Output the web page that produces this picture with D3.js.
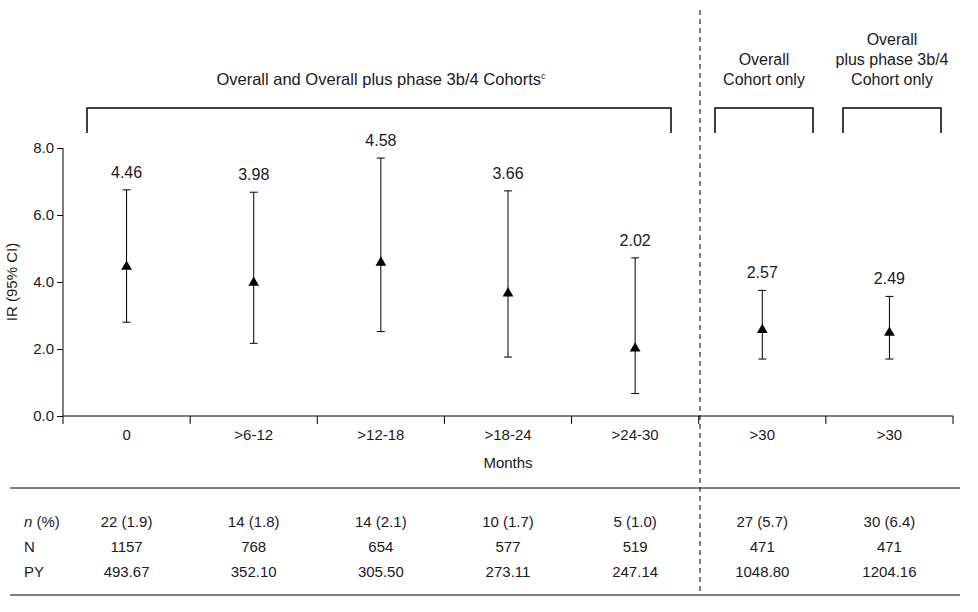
<!DOCTYPE html>
<html><head><meta charset="utf-8">
<script src="https://cdn.jsdelivr.net/npm/d3@7"></script>
<style>body{margin:0;background:#fff}text{font-family:"Liberation Sans",Arial,sans-serif;fill:#1a1a1a}</style>
</head><body><svg id="c" width="978" height="612"></svg>
<script>
const categories=["0",">6-12",">12-18",">18-24",">24-30",">30",">30"];
const ir=[4.46,3.98,4.58,3.66,2.02,2.57,2.49];
const ciLow=[2.8,2.17,2.52,1.76,0.67,1.7,1.7];
const ciHigh=[6.75,6.68,7.7,6.72,4.72,3.75,3.57];
const nPct=["22 (1.9)","14 (1.8)","14 (2.1)","10 (1.7)","5 (1.0)","27 (5.7)","30 (6.4)"];
const Nvals=["1157","768","654","577","519","471","471"];
const PY=["493.67","352.10","305.50","273.11","247.14","1048.80","1204.16"];
const yTicks=[0,2,4,6,8];

const svg=d3.select("#c");
const x=d3.scaleBand().domain(d3.range(categories.length)).range([63,953]);
const y=d3.scaleLinear().domain([0,8]).range([416,148]);

const ya=svg.append("g").attr("transform","translate(63,0)").call(d3.axisLeft(y).tickValues(yTicks).tickFormat(d3.format(".1f")).tickSizeOuter(0));
ya.selectAll("text").style("font-size","15px").attr("fill","#1a1a1a");
ya.select(".domain").attr("d","M0,148V416");
svg.append("text").attr("transform","translate(17,282) rotate(-90)").attr("text-anchor","middle").style("font-size","15px").text("IR (95% CI)");
svg.append("line").attr("x1",63).attr("x2",953).attr("y1",416).attr("y2",416).attr("stroke","#000");
d3.range(1,categories.length+1).forEach(i=>{const xx=x.step()*i+63;svg.append("line").attr("x1",xx).attr("x2",xx).attr("y1",416).attr("y2",424).attr("stroke","#000");});
svg.append("line").attr("x1",63).attr("x2",63).attr("y1",416).attr("y2",424).attr("stroke","#000");
categories.forEach((c,i)=>svg.append("text").attr("x",x(i)+x.bandwidth()/2).attr("y",440).attr("text-anchor","middle").style("font-size","15px").text(c));
svg.append("text").attr("x",508).attr("y",468).attr("text-anchor","middle").style("font-size","15px").text("Months");

ir.forEach((v,i)=>{
  const cx=x(i)+x.bandwidth()/2;
  svg.append("line").attr("x1",cx).attr("x2",cx).attr("y1",y(ciHigh[i])).attr("y2",y(ciLow[i])).attr("stroke","#000");
  [ciHigh[i],ciLow[i]].forEach(e=>svg.append("line").attr("x1",cx-4).attr("x2",cx+4).attr("y1",y(e)).attr("y2",y(e)).attr("stroke","#000"));
  svg.append("path").attr("d",d3.symbol(d3.symbolTriangle,50)()).attr("transform",`translate(${cx},${y(v)})`).attr("fill","#000");
  svg.append("text").attr("x",cx).attr("y",y(ciHigh[i])-12).attr("text-anchor","middle").style("font-size","16px").text(v.toFixed(2));
});

svg.append("line").attr("x1",700).attr("x2",700).attr("y1",10).attr("y2",595).attr("stroke","#000").attr("stroke-dasharray","5,4");

function bracket(x1,x2){svg.append("path").attr("d",`M${x1},133V108H${x2}V133`).attr("fill","none").attr("stroke","#000").attr("stroke-width",1.5);}
bracket(87,671);bracket(715,813);bracket(843,941);
const t=svg.append("text").attr("x",381).attr("y",85).attr("text-anchor","middle").style("font-size","16.5px").text("Overall and Overall plus phase 3b/4 Cohorts");
t.append("tspan").attr("dy",-6).style("font-size","9px").text("c");
[["Overall",65],["Cohort only",85]].forEach(([s,yy])=>svg.append("text").attr("x",764).attr("y",yy).attr("text-anchor","middle").style("font-size","16px").text(s));
[["Overall",45],["plus phase 3b/4",65],["Cohort only",85]].forEach(([s,yy])=>svg.append("text").attr("x",892).attr("y",yy).attr("text-anchor","middle").style("font-size","16px").text(s));

svg.append("line").attr("x1",10).attr("x2",960).attr("y1",488).attr("y2",488).attr("stroke","#000");
svg.append("line").attr("x1",10).attr("x2",960).attr("y1",595).attr("y2",595).attr("stroke","#000");
const rl=svg.append("text").attr("x",24).attr("y",527).style("font-size","15px");
rl.append("tspan").style("font-style","italic").text("n");rl.append("tspan").text(" (%)");
svg.append("text").attr("x",24).attr("y",552).style("font-size","15px").text("N");
svg.append("text").attr("x",24).attr("y",577).style("font-size","15px").text("PY");
[[nPct,527],[Nvals,552],[PY,577]].forEach(([arr,yy])=>arr.forEach((s,i)=>svg.append("text").attr("x",x(i)+x.bandwidth()/2).attr("y",yy).attr("text-anchor","middle").style("font-size","15px").text(s)));
</script></body></html>
